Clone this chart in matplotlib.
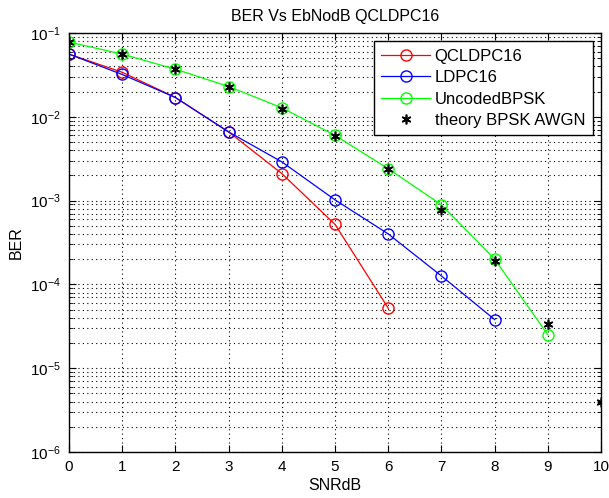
import matplotlib.pyplot as plt
from matplotlib.ticker import LogLocator, NullFormatter

plt.rcParams['font.family'] = ['Liberation Sans', 'DejaVu Sans']

snr_db = [0, 1, 2, 3, 4, 5, 6, 7, 8, 9, 10]
ber_qcldpc = [0.056, 0.034, 0.017, 0.0066, 0.0021, 0.00052, 5.2e-5]
ber_ldpc = [0.056, 0.032, 0.017, 0.0066, 0.0029, 0.00102, 0.0004, 0.000126, 3.8e-5]
ber_uncoded = [0.078, 0.056, 0.037, 0.023, 0.0128, 0.006, 0.0024, 0.00089, 0.0002, 2.5e-5]
ber_theory = [0.0786, 0.0563, 0.0375, 0.0229, 0.0125, 0.00595, 0.00239, 0.00077, 0.00019, 3.4e-5, 3.9e-6]

fig = plt.figure(figsize=(6.09, 4.98), dpi=100)
ax = fig.add_axes([0.1133, 0.0924, 0.8737, 0.8413])

ax.semilogy(snr_db[:len(ber_qcldpc)], ber_qcldpc, color='r', marker='o', mfc='none',
            ms=8, lw=0.9, label='QCLDPC16')
ax.semilogy(snr_db[:len(ber_ldpc)], ber_ldpc, color='b', marker='o', mfc='none',
            ms=8, lw=0.9, label='LDPC16')
ax.semilogy(snr_db[:len(ber_uncoded)], ber_uncoded, color='#00ff00', marker='o', mfc='none',
            ms=8, lw=0.9, label='UncodedBPSK')
# MATLAB-style asterisk
ax.semilogy(snr_db, ber_theory, color='k', marker=(6, 2, 0), ls='none', ms=7, mew=1.2,
            label='theory BPSK AWGN')

ax.set_xlim(0, 10)
ax.set_ylim(1e-6, 1e-1)
ax.set_xticks(range(0, 11))
ax.yaxis.set_major_locator(LogLocator(base=10, numticks=10))
ax.yaxis.set_minor_locator(LogLocator(base=10, subs=range(2, 10), numticks=10))
ax.yaxis.set_minor_formatter(NullFormatter())

dots = (0, (1, 3))
ax.grid(True, which='major', color='k', ls=dots, lw=0.8)
ax.grid(True, which='minor', axis='y', color='k', ls=dots, lw=0.8)
ax.tick_params(which='both', direction='in', top=True, right=True, labelsize=11)
ax.tick_params(which='major', length=5, pad=6)
ax.tick_params(which='minor', length=3)
for s in ax.spines.values():
    s.set_linewidth(1.0)

ax.set_title('BER Vs EbNodB QCLDPC16', fontsize=11.5, pad=9)
ax.set_xlabel('SNRdB', fontsize=11.5, labelpad=3)
ax.set_ylabel('BER', fontsize=11.5)

leg = ax.legend(loc='upper right', fontsize=12, fancybox=False, framealpha=1,
                edgecolor='k', borderaxespad=0.5, handlelength=2.9, labelspacing=0.38,
                handletextpad=0.3, borderpad=0.45)
leg.get_frame().set_linewidth(1.0)

fig.savefig('out.png', dpi=100)
